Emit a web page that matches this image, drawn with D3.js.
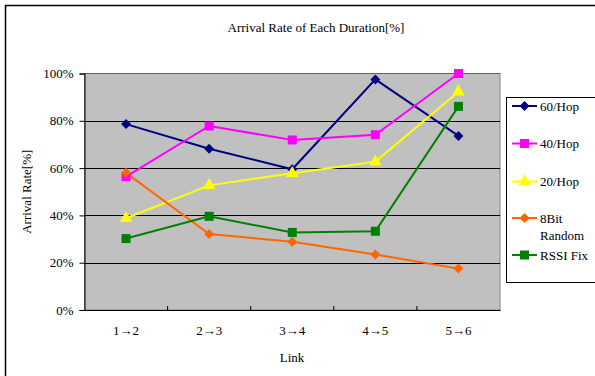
<!DOCTYPE html>
<html>
<head>
<meta charset="utf-8">
<script src="https://cdn.jsdelivr.net/npm/d3@7"></script>
<style>
  html, body { margin: 0; padding: 0; background: #fff; }
  svg { display: block; }
</style>
</head>
<body>
<svg id="chart" width="595" height="376" font-family="Liberation Serif, serif"></svg>
<script>
// Link categories and arrival rates (%) per scheme
const links = ["1\u21922", "2\u21923", "3\u21924", "4\u21925", "5\u21926"];
const hop60 = [78.6, 68.2, 59.5, 97.5, 73.6];
const hop40 = [56.4, 77.8, 71.9, 74.1, 100];
const hop20 = [38.8, 52.7, 57.8, 62.7, 92.3];
const bit8Random = [58.0, 32.1, 28.9, 23.5, 17.5];
const rssiFix = [30.2, 39.6, 32.8, 33.3, 86.1];
const yTicks = [0, 20, 40, 60, 80, 100];

const series = [
  { name: ["60/Hop"], values: hop60, color: "#000080", marker: "diamond" },
  { name: ["40/Hop"], values: hop40, color: "#ff00ff", marker: "square" },
  { name: ["20/Hop"], values: hop20, color: "#ffff00", marker: "triangle" },
  { name: ["8Bit", "Random"], values: bit8Random, color: "#ff6600", marker: "diamond" },
  { name: ["RSSI Fix"], values: rssiFix, color: "#008000", marker: "square" }
];

const FONT = "'Liberation Serif', 'Times New Roman', serif";
const svg = d3.select("#chart");

// outer frame (runs off the right and bottom edges)
svg.append("rect")
  .attr("x", 5.5).attr("y", 5.5)
  .attr("width", 600).attr("height", 400)
  .attr("fill", "#fff").attr("stroke", "#000").attr("stroke-width", 1.5);

const plot = { left: 84.5, top: 73.5, right: 500, bottom: 310 };

const x = d3.scaleBand().domain(links).range([plot.left, plot.right]);
const y = d3.scaleLinear().domain([0, 100]).range([plot.bottom, plot.top]);

// plot background
svg.append("rect")
  .attr("x", plot.left).attr("y", plot.top)
  .attr("width", plot.right - plot.left).attr("height", plot.bottom - plot.top)
  .attr("fill", "#c0c0c0").attr("stroke", "#808080").attr("stroke-width", 1);

// horizontal gridlines
svg.append("g")
  .selectAll("line")
  .data(yTicks.filter(t => t > 0 && t < 100))
  .join("line")
  .attr("x1", plot.left).attr("x2", plot.right)
  .attr("y1", d => Math.round(y(d)) + 0.5).attr("y2", d => Math.round(y(d)) + 0.5)
  .attr("stroke", "#000").attr("stroke-width", 1);

// top edge of plot area
svg.append("line")
  .attr("x1", plot.left).attr("x2", plot.right)
  .attr("y1", plot.top).attr("y2", plot.top)
  .attr("stroke", "#606060");

// y axis
const yAxis = svg.append("g")
  .attr("transform", `translate(${plot.left},0)`)
  .call(d3.axisLeft(y).tickValues(yTicks).tickFormat(d => d + "%").tickSize(5).tickPadding(6));
yAxis.attr("font-family", null);
yAxis.select(".domain").attr("stroke", "#000");
yAxis.selectAll("text").attr("font-family", FONT).attr("font-size", 13).attr("fill", "#000");

// x axis
const xAxis = svg.append("g")
  .attr("transform", `translate(0,${plot.bottom})`)
  .call(d3.axisBottom(x).tickSize(0).tickPadding(16));
xAxis.attr("font-family", null);
xAxis.select(".domain").attr("stroke", "#000");
xAxis.selectAll("text").attr("font-family", FONT).attr("font-size", 13).attr("fill", "#000");
// category boundary ticks
xAxis.selectAll("line.bound")
  .data(links.slice(1))
  .join("line")
  .attr("class", "bound")
  .attr("x1", d => x(d)).attr("x2", d => x(d))
  .attr("y1", -4).attr("y2", 0)
  .attr("stroke", "#000");

// titles
svg.append("text")
  .attr("x", 316).attr("y", 32)
  .attr("text-anchor", "middle")
  .attr("font-family", FONT).attr("font-size", 13)
  .text("Arrival Rate of Each Duration[%]");

svg.append("text")
  .attr("x", 292).attr("y", 362)
  .attr("text-anchor", "middle")
  .attr("font-family", FONT).attr("font-size", 13)
  .text("Link");

svg.append("text")
  .attr("transform", `translate(31,${(plot.top + plot.bottom) / 2}) rotate(-90)`)
  .attr("text-anchor", "middle")
  .attr("font-family", FONT).attr("font-size", 13)
  .text("Arrival Rate[%]");

// marker shapes: rotated-square diamond, square, triangle
const markerPath = {
  diamond: "M0,-5L5,0L0,5L-5,0Z",
  square: "M-4.5,-4.5H4.5V4.5H-4.5Z",
  triangle: d3.symbol().type(d3.symbolTriangle).size(70)()
};

const line = d3.line()
  .x((d, i) => x(links[i]) + x.bandwidth() / 2)
  .y(d => y(d));

const gSeries = svg.append("g");
series.forEach(s => {
  gSeries.append("path")
    .attr("d", line(s.values))
    .attr("fill", "none")
    .attr("stroke", s.color)
    .attr("stroke-width", 2);
});
series.forEach(s => {
  gSeries.append("g")
    .selectAll("path")
    .data(s.values)
    .join("path")
    .attr("d", markerPath[s.marker])
    .attr("transform", (d, i) => `translate(${x(links[i]) + x.bandwidth() / 2},${y(d)})`)
    .attr("fill", s.color);
});

// legend
const legend = svg.append("g");
legend.append("rect")
  .attr("x", 506.5).attr("y", 97.5)
  .attr("width", 100).attr("height", 185)
  .attr("fill", "#fff").attr("stroke", "#000").attr("stroke-width", 1);

const legendRows = [106, 143.5, 181.5, 218, 255];
series.forEach((s, i) => {
  const ly = legendRows[i];
  const row = legend.append("g").attr("transform", `translate(0,${ly})`);
  row.append("line")
    .attr("x1", 512).attr("x2", 537)
    .attr("stroke", s.color).attr("stroke-width", 2);
  row.append("path")
    .attr("d", markerPath[s.marker])
    .attr("transform", "translate(524.5,0)")
    .attr("fill", s.color);
  s.name.forEach((t, k) => {
    row.append("text")
      .attr("x", 540).attr("y", 4.5 + k * 17)
      .attr("font-family", FONT).attr("font-size", 13)
      .text(t);
  });
});
</script>
</body>
</html>
